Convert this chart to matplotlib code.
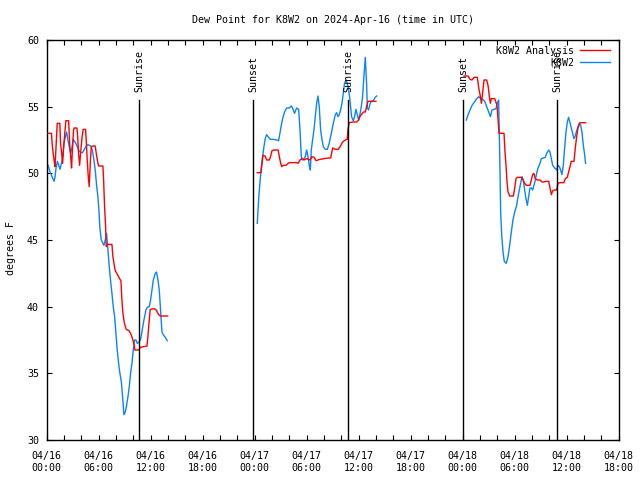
import numpy as np
import pandas as pd
import matplotlib
matplotlib.use("Agg")
import matplotlib.pyplot as plt
import matplotlib.dates as mdates

# ---------------- data (hours since 2024-04-16 00:00 UTC, degrees F) ----------------
red_h1 = [0.16, 0.55, 0.66, 0.85, 0.97, 1.1, 1.22, 1.52, 1.6, 1.73, 1.84, 1.96, 2.1, 2.22, 2.53, 2.65, 2.8, 2.87,
          2.99, 3.1, 3.18, 3.49, 3.56, 3.68, 3.8, 3.91, 4.1, 4.22, 4.49, 4.56, 4.68, 4.8, 4.91, 5.03, 5.14, 5.26,
          5.6, 5.72, 5.87, 5.99, 6.49, 6.57, 6.68, 6.8, 6.87, 7.03, 7.53, 7.64, 7.8, 7.91, 8.18, 8.41, 8.57, 8.68,
          8.8, 8.95, 9.18, 9.49, 9.72, 9.95, 10.1, 10.18, 10.64, 10.8, 11.18, 11.57, 11.68, 11.8, 11.95, 12.41,
          12.64, 12.87, 13.1, 13.95]
red_v1 = [53.0, 53.0, 52.0, 51.0, 50.5, 52.25, 53.75, 53.75, 52.25, 51.5, 50.75, 52.0, 53.1, 53.95, 53.95, 52.25,
          51.0, 50.4, 52.0, 53.25, 53.4, 53.4, 52.9, 51.5, 50.6, 51.5, 52.8, 53.3, 53.3, 52.5, 51.0, 49.75, 49.0,
          50.75, 51.9, 52.05, 52.05, 51.5, 50.9, 50.55, 50.55, 49.5, 47.5, 46.0, 44.5, 44.67, 44.67, 43.75, 43.1,
          42.7, 42.4, 42.1, 41.95, 40.5, 39.5, 38.8, 38.3, 38.2, 37.95, 37.5, 37.1, 36.75, 36.75, 36.95, 37.0,
          37.05, 37.75, 38.75, 39.8, 39.85, 39.75, 39.45, 39.3, 39.3]
red_h2 = [24.3, 24.73, 24.85, 24.96, 25.2, 25.39, 25.7, 25.85, 26.0, 26.23, 26.7, 26.85, 27.0, 27.12, 27.31, 27.6,
          27.85, 28.0, 28.46, 28.85, 29.0, 29.23, 29.43, 29.7, 30.0, 30.4, 30.6, 30.85, 31.08, 31.54, 32.0, 32.54,
          32.77, 33.0, 33.3, 33.65, 33.9, 34.14, 34.45, 34.68, 34.76, 34.91, 35.37, 35.76, 35.99, 36.14, 36.53,
          36.76, 36.91, 37.07, 37.99]
red_v2 = [50.05, 50.05, 50.75, 51.35, 51.3, 51.0, 51.0, 51.3, 51.7, 51.75, 51.75, 51.25, 50.75, 50.5, 50.6, 50.6,
          50.75, 50.8, 50.8, 50.8, 50.75, 51.0, 51.1, 51.0, 51.1, 51.0, 51.25, 51.2, 50.95, 51.05, 51.1, 51.15,
          51.15, 51.9, 51.8, 51.8, 52.05, 52.35, 52.5, 52.55, 53.25, 53.8, 53.85, 53.85, 54.0, 54.25, 54.6, 54.6,
          55.0, 55.4, 55.4]
red_h3 = [48.16, 48.62, 48.85, 49.08, 49.3, 49.69, 49.85, 50.0, 50.16, 50.31, 50.46, 50.77, 50.92, 51.08, 51.2,
          51.3, 51.46, 51.69, 51.8, 51.96, 52.07, 52.19, 52.34, 52.77, 52.88, 53.0, 53.11, 53.23, 53.42, 53.85,
          54.0, 54.15, 54.3, 54.76, 54.96, 55.15, 55.34, 55.76, 55.92, 56.07, 56.22, 56.38, 56.61, 56.92, 57.15,
          57.38, 57.61, 57.92, 58.07, 58.23, 58.38, 58.61, 58.84, 58.99, 59.22, 59.68, 59.84, 60.07, 60.22, 60.38,
          60.53, 60.84, 60.99, 61.15, 61.3, 61.53, 61.68, 62.18]
red_v3 = [57.3, 57.3, 57.05, 57.0, 57.2, 57.2, 56.4, 55.9, 55.25, 56.1, 57.0, 57.0, 56.6, 55.75, 55.25, 55.6, 55.6,
          55.6, 55.4, 55.1, 54.1, 53.0, 53.0, 53.0, 51.6, 50.6, 49.4, 48.6, 48.3, 48.3, 48.9, 49.6, 49.7, 49.7,
          49.5, 49.25, 49.1, 49.1, 49.5, 49.9, 50.0, 49.6, 49.5, 49.5, 49.35, 49.35, 49.4, 49.4, 48.9, 48.4, 48.7,
          48.75, 48.75, 49.25, 49.3, 49.3, 49.6, 49.7, 50.1, 50.5, 50.9, 50.9, 51.9, 52.75, 53.4, 53.8, 53.8, 53.8]

blue_h1 = [0.16, 0.39, 0.62, 0.85, 0.97, 1.08, 1.24, 1.39, 1.54, 1.7, 1.85, 2.0, 2.16, 2.3, 2.45, 2.6, 2.76, 2.91,
           3.07, 3.22, 3.37, 3.53, 3.68, 3.91, 4.14, 4.3, 4.53, 4.76, 5.07, 5.26, 5.45, 5.6, 5.76, 5.91, 6.03,
           6.14, 6.3, 6.45, 6.6, 6.76, 6.91, 7.07, 7.22, 7.38, 7.53, 7.68, 7.84, 7.99, 8.14, 8.3, 8.45, 8.61, 8.76,
           8.91, 9.07, 9.22, 9.38, 9.53, 9.68, 9.84, 9.99, 10.14, 10.3, 10.45, 10.68, 10.84, 10.99, 11.15, 11.3,
           11.45, 11.61, 11.84, 11.99, 12.15, 12.3, 12.53, 12.68, 12.84, 12.99, 13.14, 13.3, 13.45, 13.68, 13.91]
blue_v1 = [50.6, 50.1, 49.75, 49.4, 49.75, 50.4, 50.9, 50.6, 50.3, 50.75, 51.25, 52.25, 52.75, 53.1, 52.5, 52.0,
           51.5, 51.9, 52.55, 52.4, 52.25, 52.0, 51.75, 51.55, 51.55, 51.75, 52.0, 52.15, 52.05, 51.75, 51.0,
           50.25, 49.1, 48.25, 47.25, 45.9, 45.0, 44.8, 44.6, 45.0, 45.5, 44.25, 43.0, 41.9, 41.0, 40.0, 39.25,
           38.0, 36.75, 35.75, 35.0, 34.4, 33.25, 31.9, 32.1, 32.6, 33.25, 34.0, 35.0, 35.75, 36.75, 37.5, 37.5,
           37.25, 37.35, 37.55, 38.1, 38.75, 39.25, 39.75, 39.95, 40.0, 40.5, 41.25, 42.0, 42.5, 42.6, 42.0, 41.25,
           39.75, 38.1, 37.9, 37.7, 37.45]
blue_h2 = [24.3, 24.45, 24.6, 24.76, 24.91, 25.07, 25.22, 25.37, 25.6, 25.83, 26.14, 26.53, 26.76, 26.91, 27.07,
           27.22, 27.45, 27.68, 27.99, 28.22, 28.37, 28.6, 28.84, 29.07, 29.23, 29.38, 29.53, 29.69, 29.84, 30.0,
           30.15, 30.3, 30.42, 30.53, 30.69, 30.84, 30.99, 31.15, 31.3, 31.45, 31.61, 31.76, 31.92, 32.15, 32.38,
           32.6, 32.84, 33.07, 33.3, 33.45, 33.61, 33.76, 33.91, 34.07, 34.22, 34.37, 34.53, 34.68, 34.84, 34.99,
           35.18, 35.37, 35.53, 35.68, 35.84, 35.99, 36.14, 36.3, 36.45, 36.6, 36.76, 36.91, 37.0, 37.14, 37.3,
           37.45, 37.68, 37.91, 38.07]
blue_v2 = [46.25, 48.0, 49.25, 50.4, 51.25, 52.0, 52.6, 52.9, 52.7, 52.55, 52.55, 52.5, 52.45, 53.0, 53.6, 54.1,
           54.6, 54.9, 54.9, 55.05, 54.9, 54.5, 54.9, 54.8, 53.25, 51.25, 51.0, 51.1, 51.25, 51.75, 51.25, 50.6,
           50.25, 51.75, 52.55, 53.25, 54.25, 55.25, 55.8, 55.0, 53.25, 52.55, 52.0, 51.8, 51.8, 52.25, 53.0,
           53.75, 54.4, 54.55, 54.25, 54.4, 54.75, 55.25, 56.0, 56.75, 57.0, 56.75, 56.25, 55.5, 54.25, 53.95,
           54.25, 54.8, 54.4, 54.0, 54.4, 55.0, 55.75, 57.25, 58.7, 56.75, 54.9, 54.75, 55.2, 55.4, 55.45, 55.7,
           55.8]
blue_h3 = [48.42, 48.62, 48.85, 49.08, 49.3, 49.62, 49.85, 50.08, 50.31, 50.54, 50.77, 51.0, 51.2, 51.38, 51.61,
           51.84, 51.99, 52.15, 52.22, 52.3, 52.38, 52.5, 52.65, 52.8, 53.03, 53.23, 53.42, 53.61, 53.8, 54.0,
           54.23, 54.38, 54.61, 54.84, 55.0, 55.15, 55.3, 55.46, 55.61, 55.76, 55.92, 56.07, 56.22, 56.38, 56.53,
           56.69, 56.92, 57.07, 57.3, 57.53, 57.69, 57.92, 58.07, 58.23, 58.38, 58.61, 58.84, 58.99, 59.15, 59.3,
           59.45, 59.61, 59.76, 59.92, 60.07, 60.22, 60.38, 60.53, 60.69, 60.84, 60.99, 61.15, 61.3, 61.45, 61.61,
           61.76, 61.92, 62.07, 62.18]
blue_v3 = [54.0, 54.4, 54.75, 55.1, 55.3, 55.6, 55.75, 55.6, 55.55, 55.4, 55.0, 54.6, 54.25, 54.75, 54.8, 54.85,
           55.25, 55.5, 53.1, 50.4, 47.1, 45.4, 44.1, 43.4, 43.25, 43.75, 44.6, 45.6, 46.5, 47.1, 47.6, 48.25,
           49.0, 49.75, 49.5, 48.75, 48.1, 47.6, 48.25, 48.9, 48.9, 48.75, 49.1, 49.5, 50.0, 50.4, 50.75, 51.1,
           51.15, 51.2, 51.5, 51.75, 51.6, 51.1, 50.6, 50.4, 50.25, 50.6, 50.5, 50.25, 49.9, 50.6, 51.9, 53.1,
           53.85, 54.2, 53.8, 53.4, 53.0, 52.6, 52.8, 53.2, 53.5, 53.75, 53.6, 53.1, 52.1, 51.4, 50.75]

sun_hours = [10.69, 23.84, 34.81, 48.08, 58.9]
sun_labels = ["Sunrise", "Sunset", "Sunrise", "Sunset", "Sunrise"]

series_names = ["K8W2 Analysis", "K8W2"]
series_colors = ["#ff0000", "#0a84ff"]

# ---------------- figure ----------------
FONT = "DejaVu Sans Mono"
FS = 7.2
plt.rcParams["font.family"] = FONT
plt.rcParams["font.size"] = FS

start = pd.Timestamp("2024-04-16 00:00")


def to_time(hours):
    return start + pd.to_timedelta(np.asarray(hours, dtype=float), unit="h")


fig = plt.figure(figsize=(6.4, 4.8), dpi=100)
L, R, T, B = 46.67, 618.7, 40.0, 440.0
ax = fig.add_axes([L / 640, 1 - B / 480, (R - L) / 640, (B - T) / 480])

red_segments = [(red_h1, red_v1), (red_h2, red_v2), (red_h3, red_v3)]
blue_segments = [(blue_h1, blue_v1), (blue_h2, blue_v2), (blue_h3, blue_v3)]

for i, (hs, vs) in enumerate(red_segments):
    ax.plot(to_time(hs), vs, color=series_colors[0], lw=1.0,
            label=series_names[0] if i == 0 else None, zorder=3)
for i, (hs, vs) in enumerate(blue_segments):
    ax.plot(to_time(hs), vs, color=series_colors[1], lw=1.0,
            label=series_names[1] if i == 0 else None, zorder=2)

ymin, ymax = 30, 60
line_top = 55.5
for h, lab in zip(sun_hours, sun_labels):
    t = to_time([h])[0]
    ax.axvline(t, ymin=0, ymax=(line_top - ymin) / (ymax - ymin), color="black", lw=1.0, zorder=4)
    ax.text(t, 56.1, lab, rotation=90, ha="center", va="bottom", fontsize=FS, zorder=5)

ax.set_xlim(start, start + pd.Timedelta(hours=66))
ax.set_ylim(ymin, ymax)
ax.set_yticks(np.arange(30, 61, 5))

ax.xaxis.set_major_locator(mdates.HourLocator(byhour=[0, 6, 12, 18]))
ax.xaxis.set_major_formatter(mdates.DateFormatter("%m/%d\n%H:%M"))
ax.xaxis.set_minor_locator(mdates.HourLocator(byhour=range(0, 24, 2)))

ax.tick_params(axis="both", which="both", direction="in", top=True, right=True,
               length=3.3, width=0.8, labelsize=FS)
ax.tick_params(axis="x", which="major", pad=8)
ax.tick_params(axis="y", which="major", pad=5.5)
for s in ax.spines.values():
    s.set_linewidth(1.0)

ax.set_ylabel("degrees F", fontsize=FS)
ax.yaxis.set_label_coords((16 - L) / (R - L), (B - 248) / (B - T))
ax.set_title("Dew Point for K8W2 on 2024-Apr-16 (time in UTC)", fontsize=FS, pad=12)

leg = ax.legend(loc="upper right", bbox_to_anchor=(1 - 8.7 / (R - L), 1 - 6 / (B - T)),
                borderaxespad=0, borderpad=0, frameon=False, markerfirst=False,
                handlelength=3.0, handletextpad=0.6, labelspacing=0.2, fontsize=FS)

fig.savefig("out.png", dpi=100)
